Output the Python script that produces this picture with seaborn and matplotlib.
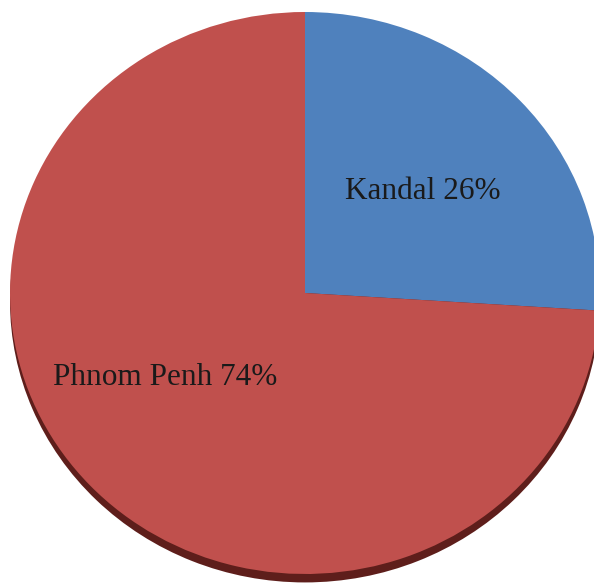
import matplotlib
matplotlib.use("Agg")
import matplotlib.pyplot as plt
import seaborn as sns

sns.set_theme(style="white")
plt.rcParams["font.family"] = ["Liberation Serif", "DejaVu Serif"]

provinces = ["Kandal", "Phnom Penh"]
shares = [26, 74]
colors = ["#4F81BD", "#C0504D"]
shadow_color = "#5E1E1B"

fig = plt.figure(figsize=(5.94, 5.88), dpi=100)
ax = fig.add_axes([0, 0, 1, 1])

# darker rim under the pie for a slight 3-D look
ax.pie([1], colors=[shadow_color], radius=1.0, center=(0, -0.03),
       startangle=90, counterclock=False, frame=True,
       wedgeprops=dict(linewidth=0))

wedges, _ = ax.pie(shares, colors=colors, radius=1.0, center=(0, 0),
                   startangle=90, counterclock=False, frame=True,
                   wedgeprops=dict(linewidth=0))

# labels inside each slice
label_pos = [(0.40, 0.36), (-0.475, -0.30)]
for name, val, (lx, ly) in zip(provinces, shares, label_pos):
    ax.text(lx, ly, f"{name} {val}%", ha="center", va="center",
            fontsize=22.5, color="#1a1a1a")

# stretch slightly wider than tall, centre offset like the page layout
rx, ry = 295.0, 281.0
cx, cy = 305.0, 293.0
W, H = 594.0, 588.0
ax.set_aspect("auto")
ax.set_xlim(-cx / rx, (W - cx) / rx)
ax.set_ylim(-(H - cy) / ry, cy / ry)
ax.axis("off")

fig.savefig("out.png", dpi=100, facecolor="white")
